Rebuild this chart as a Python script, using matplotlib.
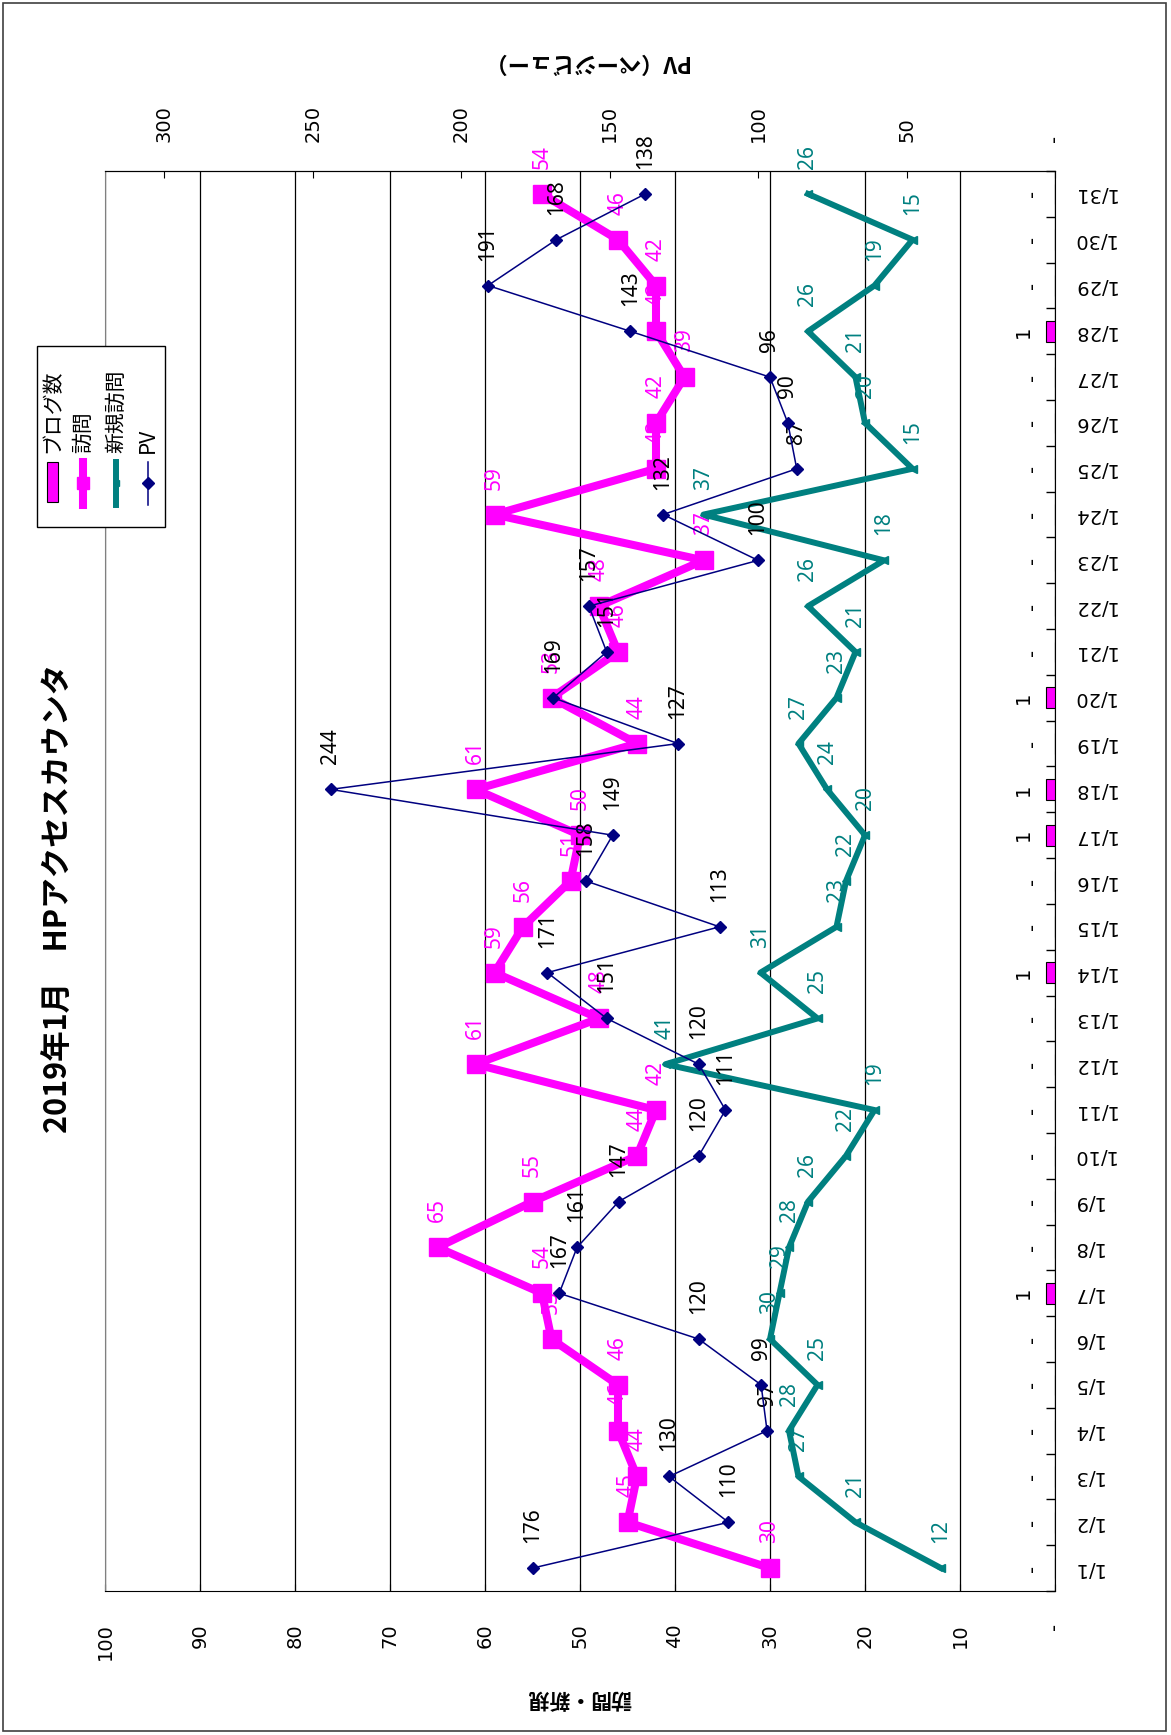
import matplotlib
matplotlib.use("Agg")
import matplotlib.pyplot as plt
from matplotlib.lines import Line2D
from matplotlib.patches import Rectangle

plt.rcParams['font.family'] = ['Noto Sans CJK JP', 'DejaVu Sans']

W, H = 1171, 1735


# pixel -> figure fraction helpers
def fx(px):
    return px / W


def fy(py):
    return 1 - py / H


days = list(range(1, 32))
day_labels = ["1/%d" % d for d in days]
blog = [0, 0, 0, 0, 0, 0, 1, 0, 0, 0, 0, 0, 0, 1, 0, 0, 1, 1, 0, 1,
        0, 0, 0, 0, 0, 0, 0, 1, 0, 0, 0]
visits = [30, 45, 44, 46, 46, 53, 54, 65, 55, 44, 42, 61, 48, 59, 56, 51,
          50, 61, 44, 53, 46, 48, 37, 59, 42, 42, 39, 42, 42, 46, 54]
new_visits = [12, 21, 27, 28, 25, 30, 29, 28, 26, 22, 19, 41, 25, 31, 23, 22,
              20, 24, 27, 23, 21, 26, 18, 37, 15, 20, 21, 26, 19, 15, 26]
pv = [176, 110, 130, 97, 99, 120, 167, 161, 147, 120, 111, 120, 151, 171, 113,
      158, 149, 244, 127, 169, 151, 157, 100, 132, 87, 90, 96, 143, 191, 168, 138]
visit_ticks = list(range(0, 101, 10))
pv_ticks = list(range(0, 301, 50))

MAGENTA = '#FF00FF'
TEAL = '#008080'
NAVY = '#000080'

fig = plt.figure(figsize=(W / 100, H / 100), dpi=100)
ax = fig.add_axes([fx(105), fy(1591), fx(1055) - fx(105), fy(171) - fy(1591)])
ax2 = ax.twiny()

ax.set_xlim(100, 0)
ax.set_ylim(0.5, 31.5)
ax2.set_xlim(320, 0)

# series
ax.barh(days, blog, height=0.45, color=MAGENTA, edgecolor='black', lw=0.8, zorder=3)
ax.plot(visits, days, color=MAGENTA, lw=5.8, marker='s', ms=12.5, zorder=4)
ax.plot(new_visits, days, color=TEAL, lw=4.3, marker='<', ms=6, zorder=5)
ax2.plot(pv, days, color=NAVY, lw=1.1, marker='D', ms=6, zorder=6)

# grid / spines
ax.set_xticks(visit_ticks)
ax.set_xticklabels(['-' if v == 0 else str(v) for v in visit_ticks],
                   rotation=90, family='DejaVu Sans', fontsize=14)
ax.xaxis.grid(True, color='black', lw=0.9)
ax.set_axisbelow(True)
ax.tick_params(axis='x', direction='in', length=5, pad=23)

ax2.set_xticks(pv_ticks)
ax2.set_xticklabels(['-' if v == 0 else str(v) for v in pv_ticks],
                    rotation=90, family='DejaVu Sans', fontsize=14)
ax2.tick_params(axis='x', direction='in', length=5, pad=21)

ax.yaxis.tick_right()
ax.set_yticks(days)
ax.set_yticklabels(day_labels, rotation=180, family='DejaVu Sans', fontsize=14,
                   ha='left', va='center')
ax.set_yticks([d + 0.5 for d in range(0, 32)], minor=True)
ax.tick_params(axis='y', which='major', length=0, pad=12)
ax.tick_params(axis='y', which='minor', direction='in', length=6.5, width=1)

for s in ['top', 'right', 'bottom']:
    ax.spines[s].set_color('black')
ax.spines['left'].set_color('#808080')
for s in ['left', 'right', 'bottom']:
    ax2.spines[s].set_visible(False)
ax2.spines['top'].set_color('black')

# data labels (all on ax2 so they sit on top)
lab_kw = dict(textcoords='offset points', rotation=90, ha='center', va='bottom',
              fontsize=15, family=['Noto Sans', 'DejaVu Sans'], annotation_clip=False)
for d, v in zip(days, visits):
    ax2.annotate(str(v), xy=(v, d), xycoords=ax.transData, xytext=(0, 18),
                 color=MAGENTA, **lab_kw)
for d, v in zip(days, new_visits):
    ax2.annotate(str(v), xy=(v, d), xycoords=ax.transData, xytext=(0, 18),
                 color=TEAL, **lab_kw)
for d, v in zip(days, pv):
    ax2.annotate(str(v), xy=(v, d), xycoords=ax2.transData, xytext=(0, 18),
                 color='black', **lab_kw)
for d, v in zip(days, blog):
    ax2.annotate('-' if v == 0 else str(v), xy=(v, d), xycoords=ax.transData,
                 xytext=(-16, 0), textcoords='offset points', rotation=90,
                 ha='center', va='center', fontsize=14, family='DejaVu Sans',
                 annotation_clip=False)

# titles and axis labels
fig.text(fx(58), fy(898), '2019年1月　HPアクセスカウンタ', rotation=90,
         ha='center', va='center', fontsize=22, fontweight='bold')
fig.text(fx(585), fy(62), 'PV（ページビュー）', rotation=180,
         ha='center', va='center', fontsize=16, fontweight='bold')
fig.text(fx(579), fy(1698), '訪問・新規', rotation=180,
         ha='center', va='center', fontsize=15, fontweight='bold')

# legend, drawn by hand because it is rotated
fig.add_artist(Rectangle((fx(37), fy(527)), fx(165) - fx(37), fy(346) - fy(527),
                         transform=fig.transFigure, facecolor='white',
                         edgecolor='black', lw=1, zorder=10))
fig.add_artist(Rectangle((fx(47), fy(502)), fx(58) - fx(47), fy(462) - fy(502),
                         transform=fig.transFigure, facecolor=MAGENTA,
                         edgecolor='black', lw=0.8, zorder=11))
leg_lines = [(83, MAGENTA, 5.8, 's', 9), (116, TEAL, 4.3, '<', 5), (148, NAVY, 1.1, 'D', 6)]
for x, c, lw, m, ms in leg_lines:
    fig.add_artist(Line2D([fx(x), fx(x)], [fy(505), fy(462)], transform=fig.transFigure,
                          color=c, lw=lw, zorder=11))
    fig.add_artist(Line2D([fx(x)], [fy(483)], transform=fig.transFigure, color=c,
                          marker=m, ms=ms, zorder=12))
for x, t in [(52, 'ブログ数'), (83, '訪問'), (116, '新規訪問'), (148, 'PV')]:
    fig.text(fx(x), fy(453), t, rotation=90, ha='center', va='bottom',
             fontsize=15, zorder=12)

# outer border
fig.add_artist(Rectangle((fx(3), fy(1731)), fx(1166) - fx(3), fy(3) - fy(1731),
                         transform=fig.transFigure, fill=False,
                         edgecolor='#404040', lw=1.2))

fig.savefig('out.png', dpi=100)
